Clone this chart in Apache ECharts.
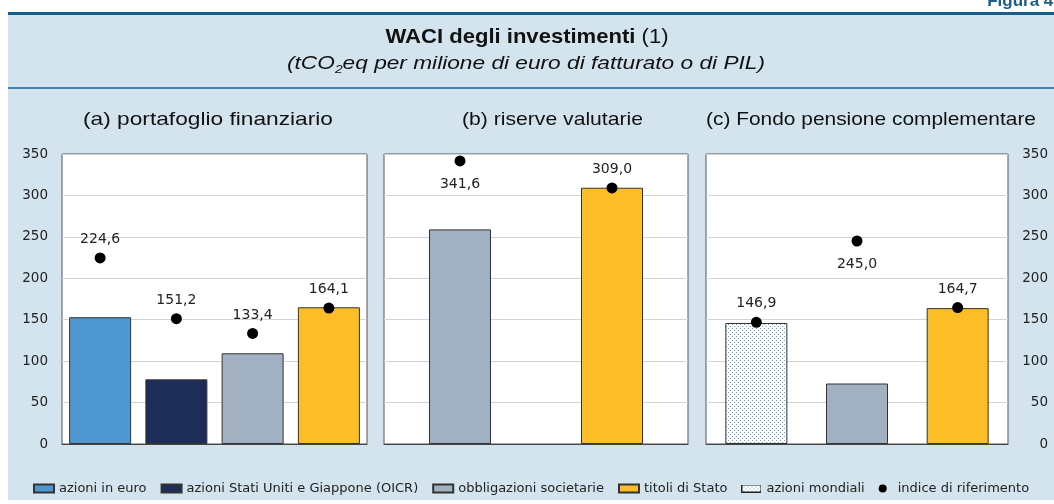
<!DOCTYPE html>
<html>
<head>
<meta charset="utf-8">
<script src="https://cdn.jsdelivr.net/npm/echarts@6/dist/echarts.min.js"></script>
<style>
html, body { margin: 0; padding: 0; background: #fff; }
#main { width: 1054px; height: 504px; }
</style>
</head>
<body>
<div id="main"></div>
<script>
// (a) portafoglio finanziario
var catA = ['euro', 'usjp', 'obbl', 'tit'];
var barA = [153, 78, 109.5, 165];
var refA = [224.6, 151.2, 133.4, 164.1];
// (b) riserve valutarie
var catB = ['obbl', 'tit'];
var barB = [259, 309.3];
var refB = [341.6, 309.0];
// (c) Fondo pensione complementare
var catC = ['mond', 'obbl', 'tit'];
var barC = [146, 73, 164];
var refC = [146.9, 245.0, 164.7];
// asse y
var yMin = 0, yMax = 350, yStep = 50;

var nomi = {
	euro: 'azioni in euro',
	usjp: 'azioni Stati Uniti e Giappone (OICR)',
	obbl: 'obbligazioni societarie',
	tit: 'titoli di Stato',
	mond: 'azioni mondiali'
};
var nomeRef = 'indice di riferimento';
var titoliPannelli = ['(a) portafoglio finanziario', '(b) riserve valutarie', '(c) Fondo pensione complementare'];

var FONT = '"Liberation Sans", Arial, sans-serif';
var FONT2 = '"DejaVu Sans", sans-serif';

// trama a puntini per azioni mondiali
function puntini(ctx, w, h) {
	ctx.fillStyle = '#ffffff';
	ctx.fillRect(0, 0, w, h);
	ctx.fillStyle = '#5ea8e0';
	for (var y = 0; y < h; y += 2) {
		for (var x = (y % 4 === 0 ? 0 : 2); x < w; x += 4) ctx.fillRect(x, y, 1, 1);
	}
}
function trama() {
	var c = document.createElement('canvas');
	c.width = 4; c.height = 4;
	puntini(c.getContext('2d'), 4, 4);
	return { image: c, repeat: 'repeat' };
}
function iconaTrama() {
	var c = document.createElement('canvas');
	c.width = 20; c.height = 8;
	var ctx = c.getContext('2d');
	puntini(ctx, 20, 8);
	ctx.strokeStyle = '#222';
	ctx.lineWidth = 1;
	ctx.strokeRect(0.5, 0.5, 19, 7);
	return 'image://' + c.toDataURL();
}
var colori = {
	euro: '#4f97d1',
	usjp: '#1e2c58',
	obbl: '#a1b1c1',
	tit: '#fdbd27',
	mond: trama()
};

// misura testo per adattare la larghezza
var mctx = document.createElement('canvas').getContext('2d');
function larg(font, txt) {
	mctx.font = font;
	return mctx.measureText(txt).width;
}

function fmt(v) {
	return v.toFixed(1).replace('.', ',');
}

var pannelli = [
	{ cat: catA, bar: barA, ref: refA, sotto: [] },
	{ cat: catB, bar: barB, ref: refB, sotto: [0] },
	{ cat: catC, bar: barC, ref: refC, sotto: [1] }
];
var gridPos = [
	{ left: 62, width: 305 },
	{ left: 384, width: 304 },
	{ left: 706, width: 302 }
];

var grid = [], xAxis = [], yAxis = [], series = [];
pannelli.forEach(function(p, g) {
	grid.push({
		left: gridPos[g].left, width: gridPos[g].width, top: 154, height: 290,
		show: true, backgroundColor: '#fff', borderColor: '#555', borderWidth: 1,
		containLabel: false, outerBoundsMode: 'none'
	});
	xAxis.push({
		type: 'category', gridIndex: g, data: p.cat,
		axisLine: { lineStyle: { color: '#444' } },
		axisTick: { show: false }, axisLabel: { show: false }
	});
	yAxis.push({
		type: 'value', gridIndex: g, min: yMin, max: yMax, interval: yStep,
		position: g === 2 ? 'right' : 'left',
		axisLine: { show: false }, axisTick: { show: false },
		axisLabel: {
			show: g !== 1, color: '#222', fontFamily: FONT2, fontSize: 13.5,
			align: 'right', margin: g === 2 ? 40 : 14
		},
		splitLine: { lineStyle: { color: '#d4d4d4', width: 1 } }
	});
	p.cat.forEach(function(k) {
		series.push({
			type: 'bar', name: nomi[k], xAxisIndex: g, yAxisIndex: g,
			stack: 'p' + g, barWidth: 62,
			itemStyle: { color: colori[k], borderColor: '#333', borderWidth: 1 },
			data: p.cat.map(function(c, j) { return c === k ? p.bar[j] : '-'; })
		});
	});
	series.push({
		type: 'scatter', name: nomeRef, xAxisIndex: g, yAxisIndex: g,
		symbolSize: 11, z: 5,
		itemStyle: { color: '#000', opacity: 1 },
		label: {
			show: true, position: 'top', distance: 6, color: '#222',
			fontFamily: FONT2, fontSize: 14,
			formatter: function(d) { return fmt(d.value); }
		},
		data: p.ref.map(function(v, j) {
			return p.sotto.indexOf(j) >= 0 ? { value: v, label: { position: 'bottom', distance: 11 } } : v;
		})
	});
});

// titoli
var fTit = 'bold 21px ' + FONT, fTitR = '21px ' + FONT;
var wTit = larg(fTit, 'WACI degli investimenti') + larg(fTitR, ' (1)');
var fSub = 'italic 18px ' + FONT, fSubS = 'italic 11px ' + FONT;
var wSub = larg(fSub, '(tCOeq per milione di euro di fatturato o di PIL)') + larg(fSubS, '2');
var fPan = '19px ' + FONT;
var xPan = [83, 462, 706];
var wPan = [250, 181, 330];

var graphic = [
	{ type: 'rect', shape: { x: 8, y: 14, width: 1046, height: 486 }, style: { fill: '#d3e4ee' }, z: -10, silent: true },
	{ type: 'rect', shape: { x: 8, y: 12, width: 1046, height: 3 }, style: { fill: '#1b5f88' }, z: -9, silent: true },
	{ type: 'rect', shape: { x: 8, y: 87, width: 1046, height: 2 }, style: { fill: '#3f85ad' }, z: -9, silent: true },
	{
		type: 'text', x: 1058, y: 10, silent: true,
		style: { text: 'Figura 4.', fill: '#1b5f88', font: 'bold 17px ' + FONT, textAlign: 'right', textVerticalAlign: 'bottom' }
	},
	{
		type: 'text', x: 527, y: 37, scaleX: 283 / wTit, silent: true,
		style: {
			text: '{b|WACI degli investimenti}{r| (1)}', textAlign: 'center', textVerticalAlign: 'middle',
			rich: {
				b: { fontFamily: FONT, fontSize: 21, fontWeight: 'bold', fill: '#111' },
				r: { fontFamily: FONT, fontSize: 21, fill: '#111' }
			}
		}
	},
	{
		type: 'text', x: 526, y: 64, scaleX: 478 / wSub, silent: true,
		style: {
			text: '{i|(tCO}{s|2}{i|eq per milione di euro di fatturato o di PIL)}', textAlign: 'center', textVerticalAlign: 'middle',
			rich: {
				i: { fontFamily: FONT, fontSize: 18, fontStyle: 'italic', fill: '#111', lineHeight: 22 },
				s: { fontFamily: FONT, fontSize: 11, fontStyle: 'italic', fill: '#111', verticalAlign: 'bottom', lineHeight: 22 }
			}
		}
	}
];
titoliPannelli.forEach(function(t, i) {
	graphic.push({
		type: 'text', x: xPan[i], y: 120, scaleX: wPan[i] / larg(fPan, t), silent: true,
		style: { text: t, font: fPan, fill: '#111', textAlign: 'left', textVerticalAlign: 'middle' }
	});
});

var legendData = ['euro', 'usjp', 'obbl', 'tit', 'mond'].map(function(k) {
	return { name: nomi[k], icon: k === 'mond' ? iconaTrama() : 'rect' };
});
legendData.push({ name: nomeRef, icon: 'circle', itemStyle: { color: '#000', opacity: 1 } });

var myChart = echarts.init(document.getElementById('main'));
var option = {
	backgroundColor: '#fff',
	animation: false,
	graphic: graphic,
	legend: {
		data: legendData, left: 28, top: 477,
		itemWidth: 20, itemHeight: 8, itemGap: 14,
		textStyle: { fontFamily: FONT2, fontSize: 13, color: '#222' },
		selectedMode: false
	},
	grid: grid,
	xAxis: xAxis,
	yAxis: yAxis,
	series: series
};
myChart.setOption(option);
</script>
</body>
</html>
